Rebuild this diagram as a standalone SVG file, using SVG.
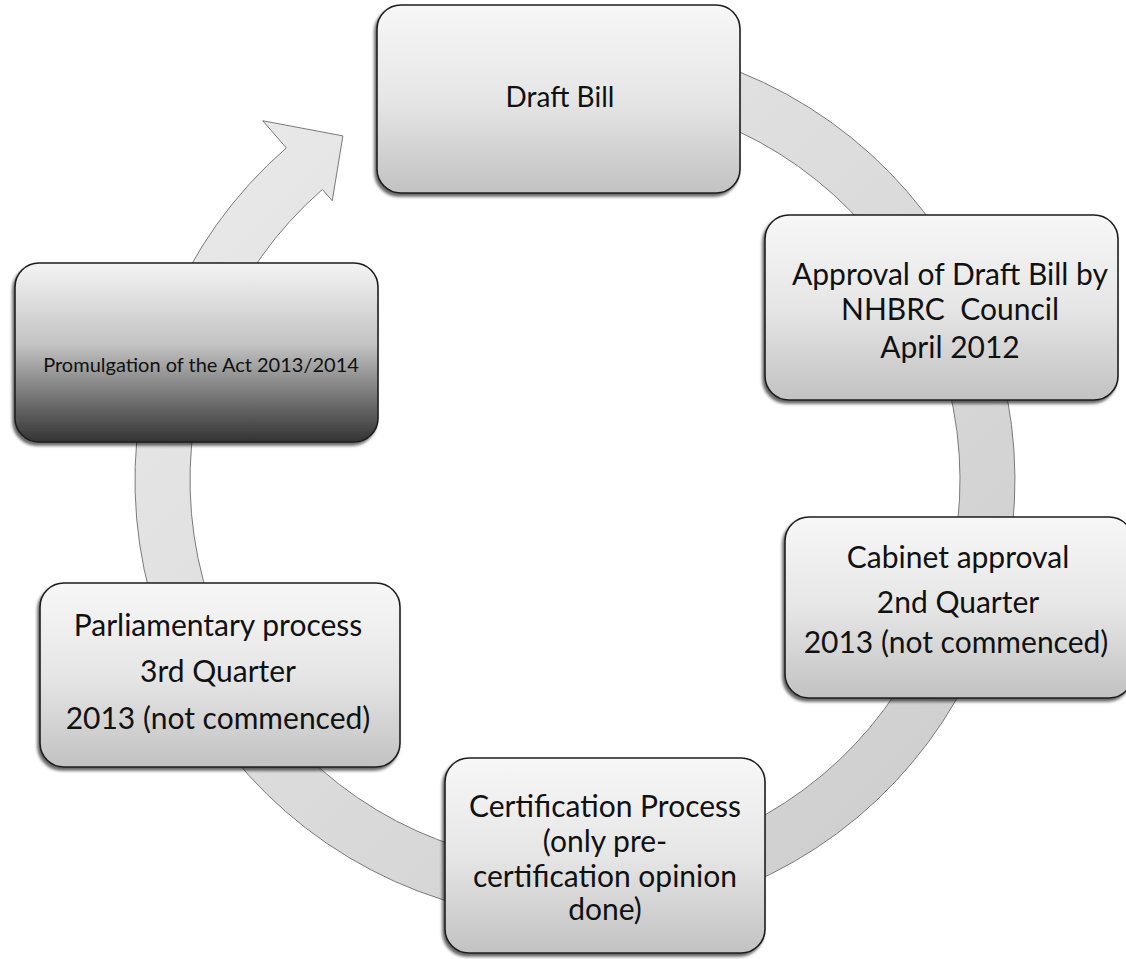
<svg xmlns="http://www.w3.org/2000/svg" width="1126" height="959" viewBox="0 0 1126 959">
  <defs>
    <linearGradient id="boxGrad" x1="0" y1="0" x2="0" y2="1">
      <stop offset="0" stop-color="#f7f7f7"/>
      <stop offset="0.5" stop-color="#e6e6e6"/>
      <stop offset="1" stop-color="#c2c2c2"/>
    </linearGradient>
    <linearGradient id="darkGrad" x1="0" y1="0" x2="0" y2="1">
      <stop offset="0" stop-color="#f4f4f4"/>
      <stop offset="0.45" stop-color="#c4c4c4"/>
      <stop offset="1" stop-color="#333333"/>
    </linearGradient>
    <linearGradient id="ringGrad" x1="0" y1="0" x2="1" y2="1">
      <stop offset="0" stop-color="#ececec"/>
      <stop offset="1" stop-color="#cbcbcb"/>
    </linearGradient>
    <filter id="shadow" x="-10%" y="-10%" width="120%" height="125%">
      <feDropShadow dx="-2" dy="3" stdDeviation="1.5" flood-color="#000" flood-opacity="0.6"/>
    </filter>
    <style>
      .box { fill: url(#boxGrad); stroke: #1e1e1e; stroke-width: 1.6; filter: url(#shadow); }
      .box.dark { fill: url(#darkGrad); }
      .ring { fill: url(#ringGrad); stroke: #7a7a7a; stroke-width: 1; }
      .t { font-family: Lato, "Liberation Sans", sans-serif; font-size: 30px; fill: #111; text-anchor: middle; }
      .t.title { font-size: 28px; }
      .t.small { font-size: 20px; }
    </style>
  </defs>
  <rect width="1126" height="959" fill="#ffffff"/>

  <g id="connectors">
    <path class="ring" d="M 536.65 41.7 A 440 440 0 1 1 286.33 147.93 L 262.72 120.76 L 342.9 135.9 L 332.26 200.76 L 322.42 189.44 A 385 385 0 1 0 541.44 96.46 Z"/>
  </g>

  <g id="node-draft-bill">
    <rect class="box" x="377" y="5" width="363" height="188" rx="24"/>
    <text class="t title" x="560" y="107">Draft Bill</text>
  </g>

  <g id="node-approval">
    <rect class="box" x="765" y="215" width="353" height="185" rx="24"/>
    <text class="t" x="950" y="285">Approval of Draft Bill by</text>
    <text class="t" x="950" y="320" xml:space="preserve">NHBRC  Council</text>
    <text class="t" x="950" y="358">April 2012</text>
  </g>

  <g id="node-cabinet">
    <rect class="box" x="785" y="517" width="348" height="181" rx="24"/>
    <text class="t" x="958" y="568">Cabinet approval</text>
    <text class="t" x="958" y="613">2nd Quarter</text>
    <text class="t" x="956" y="653">2013 (not commenced)</text>
  </g>

  <g id="node-certification">
    <rect class="box" x="445" y="758" width="320" height="195" rx="24"/>
    <text class="t" x="605" y="817">Certification Process</text>
    <text class="t" x="605" y="852">(only pre-</text>
    <text class="t" x="605" y="887">certification opinion</text>
    <text class="t" x="605" y="920">done)</text>
  </g>

  <g id="node-parliamentary">
    <rect class="box" x="40" y="583" width="360" height="184" rx="24"/>
    <text class="t" x="218" y="636">Parliamentary process</text>
    <text class="t" x="218" y="682">3rd Quarter</text>
    <text class="t" x="218" y="729">2013 (not commenced)</text>
  </g>

  <g id="node-promulgation">
    <rect class="box dark" x="15" y="263" width="363" height="179" rx="24"/>
    <text class="t small" x="201" y="372">Promulgation of the Act 2013/2014</text>
  </g>
</svg>
